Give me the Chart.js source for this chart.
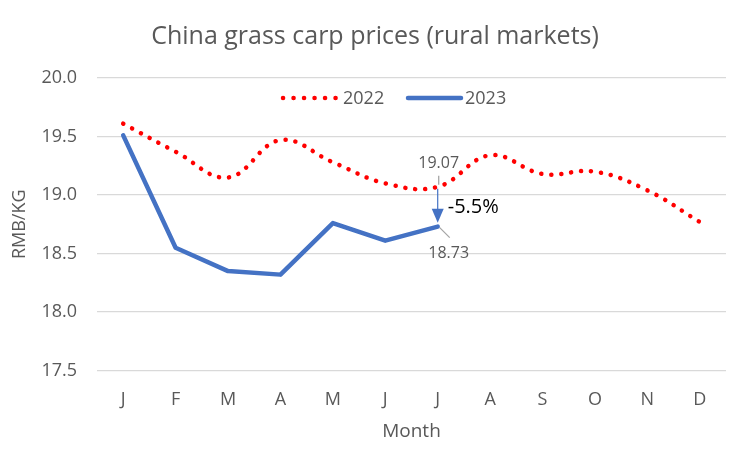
<!DOCTYPE html>
<html>
<head>
<meta charset="utf-8">
<script src="https://cdn.jsdelivr.net/npm/chart.js@4.4.0/dist/chart.umd.min.js"></script>
<style>
  html, body { margin: 0; padding: 0; background: #fff; }
  #wrap { width: 750px; height: 450px; }
</style>
</head>
<body>
<div id="wrap"><canvas id="chart" width="750" height="450"></canvas></div>
<script>
const months = ['J', 'F', 'M', 'A', 'M', 'J', 'J', 'A', 'S', 'O', 'N', 'D'];
const prices2022 = [19.61, 19.37, 19.15, 19.47, 19.28, 19.10, 19.07, 19.34, 19.18, 19.20, 19.04, 18.77];
const prices2023 = [19.51, 18.55, 18.35, 18.32, 18.76, 18.61, 18.73];
const yTicks = [17.5, 18.0, 18.5, 19.0, 19.5, 20.0];
const chartTitle = 'China grass carp prices (rural markets)';
const changeLabel = '-5.5%';
const compareIndex = 6;

const grey = '#595959';
const red = '#FF0000';
const blue = '#4472C4';
const fontFamily = '"Open Sans", "Noto Sans", sans-serif';

// title centred on the whole canvas, like Excel
const titlePlugin = {
    id: 'canvasTitle',
    afterDraw(chart) {
        const ctx = chart.ctx;
        ctx.save();
        ctx.font = '25px ' + fontFamily;
        ctx.fillStyle = grey;
        ctx.textAlign = 'center';
        ctx.textBaseline = 'middle';
        ctx.fillText(chartTitle, chart.width / 2, 37);
        ctx.restore();
    }
};

// legend drawn inside the plot area
const legendPlugin = {
    id: 'insideLegend',
    afterDraw(chart) {
        const ctx = chart.ctx;
        const y = chart.chartArea.top + 20;
        ctx.save();
        ctx.font = '18px ' + fontFamily;
        ctx.textBaseline = 'middle';
        ctx.fillStyle = grey;

        // 2022 dotted sample
        ctx.strokeStyle = red;
        ctx.lineWidth = 4.5;
        ctx.lineCap = 'round';
        ctx.setLineDash([0.1, 10.4]);
        ctx.beginPath();
        ctx.moveTo(283, y);
        ctx.lineTo(336, y);
        ctx.stroke();
        ctx.fillText('2022', 343, y + 1);

        // 2023 solid sample
        ctx.setLineDash([]);
        ctx.strokeStyle = blue;
        ctx.beginPath();
        ctx.moveTo(408, y);
        ctx.lineTo(461, y);
        ctx.stroke();
        ctx.fillText('2023', 465, y + 1);
        ctx.restore();
    }
};

// data labels, leader lines and change arrow at July
const notePlugin = {
    id: 'changeNote',
    afterDatasetsDraw(chart) {
        const ctx = chart.ctx;
        const xs = chart.scales.x, ys = chart.scales.y;
        const x = xs.getPixelForValue(compareIndex);
        const yTop = ys.getPixelForValue(prices2022[compareIndex]);
        const yBot = ys.getPixelForValue(prices2023[compareIndex]);
        ctx.save();

        // leader lines
        ctx.strokeStyle = '#A6A6A6';
        ctx.lineWidth = 1.3;
        ctx.beginPath();
        ctx.moveTo(x + 1, yTop - 2);
        ctx.lineTo(x + 1, yTop - 11);
        ctx.moveTo(x + 2, yBot + 1);
        ctx.lineTo(x + 12, yBot + 11);
        ctx.stroke();

        // labels
        ctx.fillStyle = grey;
        ctx.font = '16px ' + fontFamily;
        ctx.textAlign = 'center';
        ctx.textBaseline = 'middle';
        ctx.fillText(prices2022[compareIndex].toFixed(2), x + 1, yTop - 23);
        ctx.fillText(prices2023[compareIndex].toFixed(2), x + 11, yBot + 27);

        // arrow
        ctx.strokeStyle = blue;
        ctx.fillStyle = blue;
        ctx.lineWidth = 1.2;
        ctx.beginPath();
        ctx.moveTo(x, yTop + 2);
        ctx.lineTo(x, yBot - 16);
        ctx.stroke();
        ctx.beginPath();
        ctx.moveTo(x - 6, yBot - 18);
        ctx.lineTo(x + 6, yBot - 18);
        ctx.lineTo(x, yBot - 4);
        ctx.closePath();
        ctx.fill();

        ctx.fillStyle = '#000';
        ctx.font = '20px ' + fontFamily;
        ctx.textAlign = 'left';
        ctx.fillText(changeLabel, x + 10, (yTop + yBot) / 2 + 1);
        ctx.restore();
    }
};

new Chart(document.getElementById('chart'), {
    type: 'line',
    data: {
        labels: months,
        datasets: [{
            label: '2022',
            data: prices2022,
            borderColor: red,
            borderWidth: 4.5,
            borderDash: [0.1, 9.9],
            borderCapStyle: 'round',
            tension: 0.4,
            pointRadius: 0,
            fill: false
        }, {
            label: '2023',
            data: prices2023,
            borderColor: blue,
            borderWidth: 4.5,
            borderCapStyle: 'round',
            borderJoinStyle: 'round',
            tension: 0,
            pointRadius: 0,
            fill: false
        }]
    },
    options: {
        responsive: false,
        animation: false,
        devicePixelRatio: 1,
        layout: { padding: { top: 78, left: 0, right: 24, bottom: 7 } },
        plugins: {
            legend: { display: false },
            tooltip: { enabled: false },
            title: { display: false }
        },
        scales: {
            x: {
                offset: true,
                grid: { display: false },
                border: { display: false },
                ticks: { color: grey, font: { family: fontFamily, size: 18 }, padding: 10 },
                title: { display: true, text: 'Month', color: grey, font: { family: fontFamily, size: 19 }, padding: { top: 0, bottom: 0 } }
            },
            y: {
                min: yTicks[0],
                max: yTicks[yTicks.length - 1],
                afterBuildTicks(axis) { axis.ticks = yTicks.map(v => ({ value: v })); },
                afterFit(axis) { axis.width = 97; },
                grid: { color: '#D9D9D9', lineWidth: 1.3, drawTicks: false },
                border: { display: false },
                ticks: {
                    color: grey,
                    font: { family: fontFamily, size: 18 },
                    padding: 20,
                    callback: v => Number(v).toFixed(1)
                },
                title: { display: true, text: 'RMB/KG', color: grey, font: { family: fontFamily, size: 18 }, padding: { top: 9, bottom: 4 } }
            }
        }
    },
    plugins: [titlePlugin, legendPlugin, notePlugin]
});
</script>
</body>
</html>
